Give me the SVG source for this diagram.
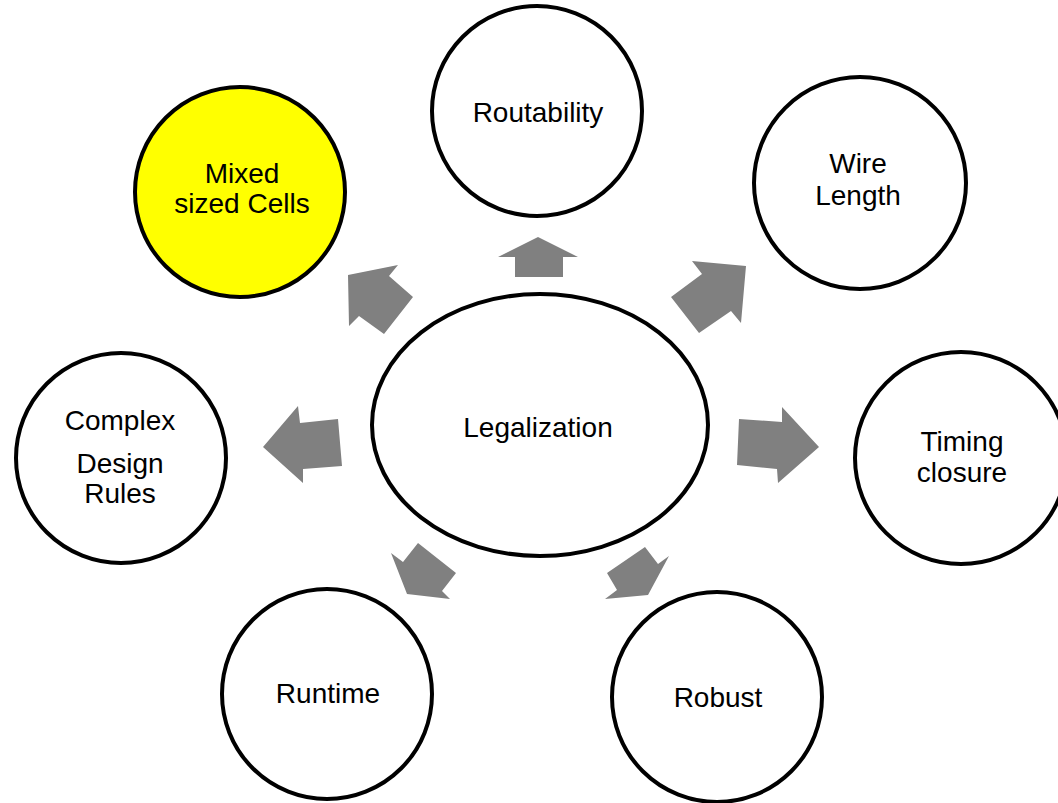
<svg xmlns="http://www.w3.org/2000/svg" width="1058" height="803" viewBox="0 0 1058 803">
<style>
.n{fill:#fff;stroke:#000;stroke-width:4}
.y{fill:#ffff00}
.a{fill:#808080;stroke:none}
text{font-family:"Liberation Sans",Arial,sans-serif;font-size:28px;fill:#000;text-anchor:middle}
</style>
<rect width="1058" height="803" fill="#fff"/>
<g id="connectors">
<polygon class="a" points="348,275 398,265 389,276 413,297 384,334 359,316 349,326"/>
<polygon class="a" points="538,237 578,257 563,257 563,277 515,277 515,257 498,257"/>
<polygon class="a" points="746,266 741,323 731,311 699,333 671,297 702,274 692,261"/>
<polygon class="a" points="263,447 298,406 300,423 338,419 342,466 303,469 303,483"/>
<polygon class="a" points="819,447 782,407 782,422 739,419 737,465 777,469 778,483"/>
<polygon class="a" points="391,553 403,562 418,543 456,573 442,591 450,599 407,594"/>
<polygon class="a" points="645,547 658,564 669,556 648,595 605,599 617,590 607,573"/>
</g>
<g id="legalization"><ellipse class="n" cx="540" cy="425" rx="168" ry="131"/><text x="538" y="437">Legalization</text></g>
<g id="routability"><circle class="n" cx="537" cy="111" r="105"/><text x="538" y="122">Routability</text></g>
<g id="wire-length"><circle class="n" cx="860" cy="183" r="106"/><text x="858" y="173">Wire</text><text x="858" y="205">Length</text></g>
<g id="mixed-sized-cells"><circle class="n y" cx="240" cy="192" r="105"/><text x="242" y="183">Mixed</text><text x="242" y="213">sized Cells</text></g>
<g id="complex-design-rules"><circle class="n" cx="121" cy="458" r="105"/><text x="120" y="430">Complex</text><text x="120" y="473">Design</text><text x="120" y="503">Rules</text></g>
<g id="timing-closure"><circle class="n" cx="961" cy="458" r="106"/><text x="962" y="451">Timing</text><text x="962" y="482">closure</text></g>
<g id="runtime"><circle class="n" cx="327" cy="694" r="105"/><text x="328" y="703">Runtime</text></g>
<g id="robust"><circle class="n" cx="717" cy="697" r="105"/><text x="718" y="707">Robust</text></g>
</svg>
